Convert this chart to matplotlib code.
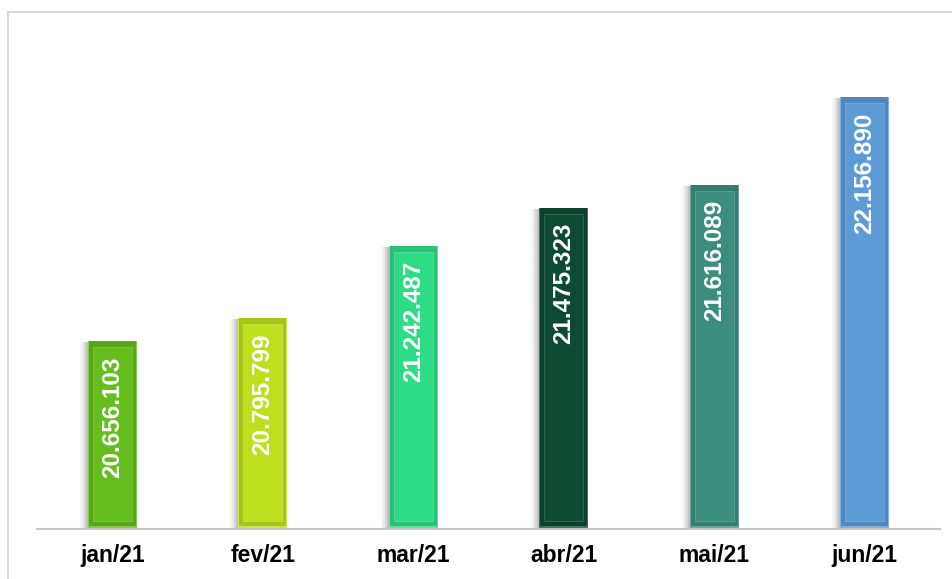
import matplotlib
matplotlib.use("Agg")
import matplotlib.pyplot as plt
from matplotlib.patches import Rectangle
import matplotlib.colors as mcolors

categories = ["jan/21", "fev/21", "mar/21", "abr/21", "mai/21", "jun/21"]
values = [20656103, 20795799, 21242487, 21475323, 21616089, 22156890]
colors = ["#64be1c", "#bddf1e", "#2edc85", "#0c4a33", "#3b8e7e", "#5c9bd6"]

plt.rcParams['font.family'] = ['Liberation Sans', 'DejaVu Sans']

W, H = 953, 579
fig = plt.figure(figsize=(W / 100, H / 100), dpi=100)
ax = fig.add_axes([37 / W, (H - 529) / H, (940 - 37) / W, (529 - 50) / H])

ymin, ymax = 19.5e6, 22.446e6
ax.set_ylim(ymin, ymax)
ax.set_xlim(-0.5, len(categories) - 0.5)

x = list(range(len(categories)))
bw = 0.325
px_y = (ymax - ymin) / 479.0
px_x = 6.0 / 903.0

def fmt(v):
    return f"{v:,}".replace(",", ".")

for i, (v, c) in enumerate(zip(values, colors)):
    # soft shadow to the left
    for k, a in zip([8, 6, 4, 2], [0.05, 0.08, 0.12, 0.16]):
        ax.bar(i - k * px_x, v - ymin - 2 * px_y, bw, bottom=ymin + px_y,
               color="#555555", alpha=a, linewidth=0, zorder=1)
    base = mcolors.to_rgb(c)
    light = tuple(min(1, b + (1 - b) * 0.22) for b in base)
    dark = tuple(b * 0.88 for b in base)
    ax.bar(i, v - ymin, bw, bottom=ymin, color=light, linewidth=0, zorder=2)
    ax.bar(i, v - ymin - 3 * px_y, bw - 2 * px_x, bottom=ymin + 3 * px_y,
           color=dark, linewidth=0, zorder=2)
    ax.bar(i, v - ymin - 14 * px_y, bw - 10 * px_x, bottom=ymin + 8 * px_y,
           color=c, linewidth=0.5, edgecolor=light, zorder=3)
    ax.annotate(fmt(v), xy=(i, v), xytext=(0, -11), textcoords="offset points",
                rotation=90, ha="center", va="top", color="white",
                fontsize=17.5, fontweight="bold", zorder=5)

ax.set_xticks(x)
ax.set_xticklabels(categories, fontsize=16.5, fontweight="bold", color="black")
ax.tick_params(axis="x", length=0, pad=10.5)
ax.set_yticks([])
for s in ["left", "right", "top"]:
    ax.spines[s].set_visible(False)
ax.spines["bottom"].set_color("#c8c8c8")
ax.spines["bottom"].set_linewidth(1.5)
ax.spines["bottom"].set_zorder(6)

# outer frame
fig.patches.append(Rectangle((8 / W, -0.1), 1.2, (H - 12) / H + 0.1,
                             transform=fig.transFigure, fill=False,
                             edgecolor="#d9d9d9", linewidth=1.5))

fig.savefig("out.png", dpi=100)
